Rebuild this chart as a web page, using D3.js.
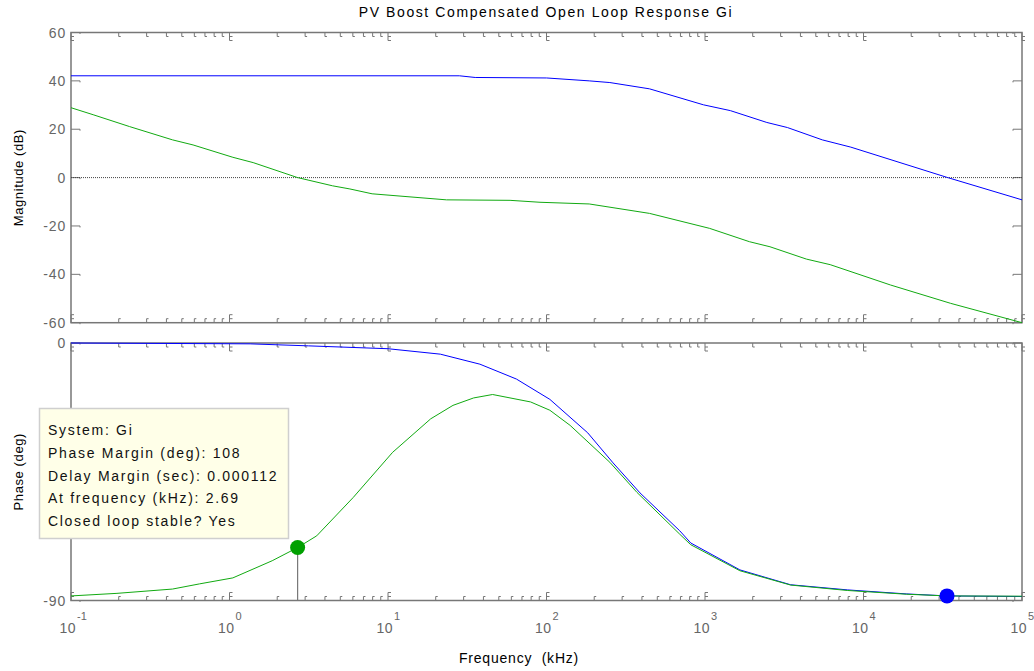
<!DOCTYPE html>
<html>
<head>
<meta charset="utf-8">
<script src="https://cdn.jsdelivr.net/npm/d3@7"></script>
<style>
  body { margin: 0; background: #fff; }
  svg { display: block; font-family: "Liberation Sans", Arial, sans-serif; }
</style>
</head>
<body>
<svg id="chart" width="1034" height="671"></svg>
<script>
// frequencies in kHz, magnitude in dB, phase in deg
const magBlue = [
  [0.1, 42.1], [28.2, 42.1], [35.5, 41.4], [100, 41.2], [186, 40], [251, 39.3],
  [447, 36.7], [977, 30.1], [1445, 27.7], [2455, 22.8], [3311, 20.7], [5495, 15.6],
  [8318, 12.6], [34000, 0], [100000, -9.2]
]
const magGreen = [
  [0.1, 28.9], [0.138, 26], [0.234, 21.1], [0.437, 15.6], [0.589, 13.5], [1.05, 8.4],
  [1.41, 6.2], [2.69, 0], [4.47, -3.4], [5.75, -4.7], [7.94, -6.7], [23.4, -9.2],
  [58.9, -9.4], [91, -10.2], [186, -10.9], [447, -14.8], [1070, -21], [1905, -26.5],
  [2570, -28.6], [4365, -33.7], [6166, -36], [14790, -44.4], [35480, -52], [100000, -60.5]
]
const phaseBlue = [
  [0.1, 0], [1.35, -0.3], [3.16, -1], [10, -2], [21.4, -3.9], [38, -7.4], [64.6, -12.6],
  [105, -19.7], [182, -31.4], [263, -41.9], [389, -52.4], [692, -65.6], [813, -69.9],
  [1660, -79.3], [3467, -84.5], [7943, -86.3], [18620, -87.7], [33650, -88.4], [100000, -88.6]
]
const phaseGreen = [
  [0.1, -88.4], [0.195, -87.5], [0.437, -86], [0.646, -84.2], [1.05, -82.1], [1.86, -76.1],
  [2.69, -71.5], [3.55, -67.4], [6.03, -54], [10.7, -38.2], [18.6, -26.5], [25.7, -21.8],
  [34.7, -19.2], [45.7, -18], [79.4, -20.6], [105, -23.5], [141, -28.8], [251, -41.7],
  [372, -52.2], [692, -66.8], [813, -70.5], [1660, -79.6], [3467, -84.6], [7943, -86.5],
  [18620, -87.8], [33650, -88.4], [100000, -88.5]
]
const magTicks = [60, 40, 20, 0, -20, -40, -60]
const phaseTicks = [0, -90]
const decades = [-1, 0, 1, 2, 3, 4, 5]
const tipLines = [
  'System: Gi',
  'Phase Margin (deg): 108',
  'Delay Margin (sec): 0.000112',
  'At frequency (kHz): 2.69',
  'Closed loop stable? Yes'
]
const pmPoint = [2.69, -71.5]     // green marker
const crossPoint = [33650, -88.4] // blue marker

const AXC = '#777'
const svg = d3.select('#chart')

const x = d3.scaleLog().domain([0.1, 1e5]).range([71, 1022])
const yMag = d3.scaleLinear().domain([-60, 60]).range([322.7, 32.5])
const yPh = d3.scaleLinear().domain([-90, 0]).range([600.5, 343])

// minor ticks 2..9 per decade
const minors = []
for (let d = -1; d < 5; d++)
  for (let k = 2; k < 10; k++) minors.push(k * 10 ** d)

function panel(y, yt, yfmt) {
  const [y0, y1] = y.range() // bottom, top
  const g = svg.append('g')
  g.append('rect')
    .attr('x', x(0.1)).attr('y', y1)
    .attr('width', x(1e5) - x(0.1)).attr('height', y0 - y1)
    .attr('fill', 'none').attr('stroke', AXC).attr('stroke-width', 1.5)

  const tk = g.append('g').attr('stroke', AXC).attr('stroke-width', 1).attr('fill', 'none')
  // x minor ticks, bottom and top, little hooks like the matlab export
  tk.selectAll('.mb').data(minors).join('path')
    .attr('d', f => `M${x(f)},${y0} V${y0 - 4} H${x(f) + 2}`)
  tk.selectAll('.mt').data(minors).join('path')
    .attr('d', f => `M${x(f)},${y1} V${y1 + 4} H${x(f) + 2}`)
  tk.selectAll('.Mb').data(decades).join('path')
    .attr('d', e => { const p = x(10 ** e); return `M${p},${y0} V${y0 - 8} H${p + 3} M${p},${y0 - 4} H${p + 3}` })
  tk.selectAll('.Mt').data(decades).join('path')
    .attr('d', e => { const p = x(10 ** e); return `M${p},${y1} V${y1 + 8} H${p + 3} M${p},${y1 + 4} H${p + 3}` })
  // y ticks, left and right
  tk.selectAll('.yl').data(yt).join('path')
    .attr('d', v => `M${x(0.1)},${y(v)} H${x(0.1) + 9} V${y(v) + 1.5}`)
  tk.selectAll('.yr').data(yt).join('path')
    .attr('d', v => `M${x(1e5)},${y(v)} H${x(1e5) - 9} V${y(v) + 1.5}`)

  g.selectAll('.yt').data(yt).join('text')
    .attr('x', 66).attr('y', v => y(v) + 5)
    .attr('text-anchor', 'end')
    .attr('font-size', 14).attr('letter-spacing', 0.8)
    .attr('fill', '#666')
    .text(yfmt)
  return g
}

const line = y => d3.line().x(d => x(d[0])).y(d => y(d[1]))

// magnitude panel
panel(yMag, magTicks, v => v)
svg.append('line')
  .attr('x1', x(0.1)).attr('x2', x(1e5))
  .attr('y1', yMag(0)).attr('y2', yMag(0))
  .attr('stroke', '#444').attr('stroke-dasharray', '1,1')
svg.append('path').datum(magBlue).attr('d', line(yMag))
  .attr('fill', 'none').attr('stroke', '#0000ff').attr('stroke-width', 1)
svg.append('path').datum(magGreen.map(d => [d[0], Math.max(d[1], -60)])).attr('d', line(yMag))
  .attr('fill', 'none').attr('stroke', '#11aa11').attr('stroke-width', 1)

// phase panel
panel(yPh, phaseTicks, v => v)
svg.append('path').datum(phaseBlue).attr('d', line(yPh))
  .attr('fill', 'none').attr('stroke', '#0000ff').attr('stroke-width', 1)
svg.append('path').datum(phaseGreen).attr('d', line(yPh))
  .attr('fill', 'none').attr('stroke', '#11aa11').attr('stroke-width', 1)

// phase margin stem + markers
svg.append('line')
  .attr('x1', x(pmPoint[0])).attr('x2', x(pmPoint[0]))
  .attr('y1', yPh(pmPoint[1])).attr('y2', yPh(-90))
  .attr('stroke', AXC).attr('stroke-width', 1.2)
svg.append('circle').attr('cx', x(pmPoint[0])).attr('cy', yPh(pmPoint[1])).attr('r', 7.5)
  .attr('fill', '#00a000')
svg.append('circle').attr('cx', x(crossPoint[0])).attr('cy', yPh(crossPoint[1])).attr('r', 7.5)
  .attr('fill', '#0000ff')

// x tick labels 10^n
const xl = svg.append('g').attr('fill', '#666')
decades.forEach(e => {
  const p = x(10 ** e)
  xl.append('text').attr('x', p + 5).attr('y', 633).attr('text-anchor', 'end')
    .attr('font-size', 14).attr('letter-spacing', 0.5).text('10')
  xl.append('text').attr('x', p + 6).attr('y', 620)
    .attr('font-size', 11).text(e)
})

// titles
svg.append('text').attr('x', 546).attr('y', 17).attr('text-anchor', 'middle')
  .attr('font-size', 14).attr('letter-spacing', 1.6).text('PV Boost Compensated Open Loop Response Gi')
svg.append('text').attr('x', 519).attr('y', 663).attr('text-anchor', 'middle')
  .attr('font-size', 14).attr('letter-spacing', 0.8).attr('xml:space', 'preserve')
  .style('white-space', 'pre').text('Frequency  (kHz)')
svg.append('text').attr('transform', `translate(23,${yMag(0)}) rotate(-90)`)
  .attr('text-anchor', 'middle').attr('font-size', 13).attr('letter-spacing', 0.6)
  .text('Magnitude (dB)')
svg.append('text').attr('transform', `translate(23,${(yPh(0) + yPh(-90)) / 2}) rotate(-90)`)
  .attr('text-anchor', 'middle').attr('font-size', 13).attr('letter-spacing', 0.6)
  .text('Phase (deg)')

// datatip box
const tip = svg.append('g')
tip.append('rect').attr('x', 39.5).attr('y', 408.5).attr('width', 249).attr('height', 130)
  .attr('fill', '#ffffe8').attr('stroke', '#cfcfcf').attr('stroke-width', 1.5)
tip.selectAll('text').data(tipLines).join('text')
  .attr('x', 48).attr('y', (d, i) => 435 + i * 22.75)
  .attr('font-size', 14).attr('letter-spacing', 1.7).attr('fill', '#111')
  .text(d => d)
</script>
</body>
</html>
